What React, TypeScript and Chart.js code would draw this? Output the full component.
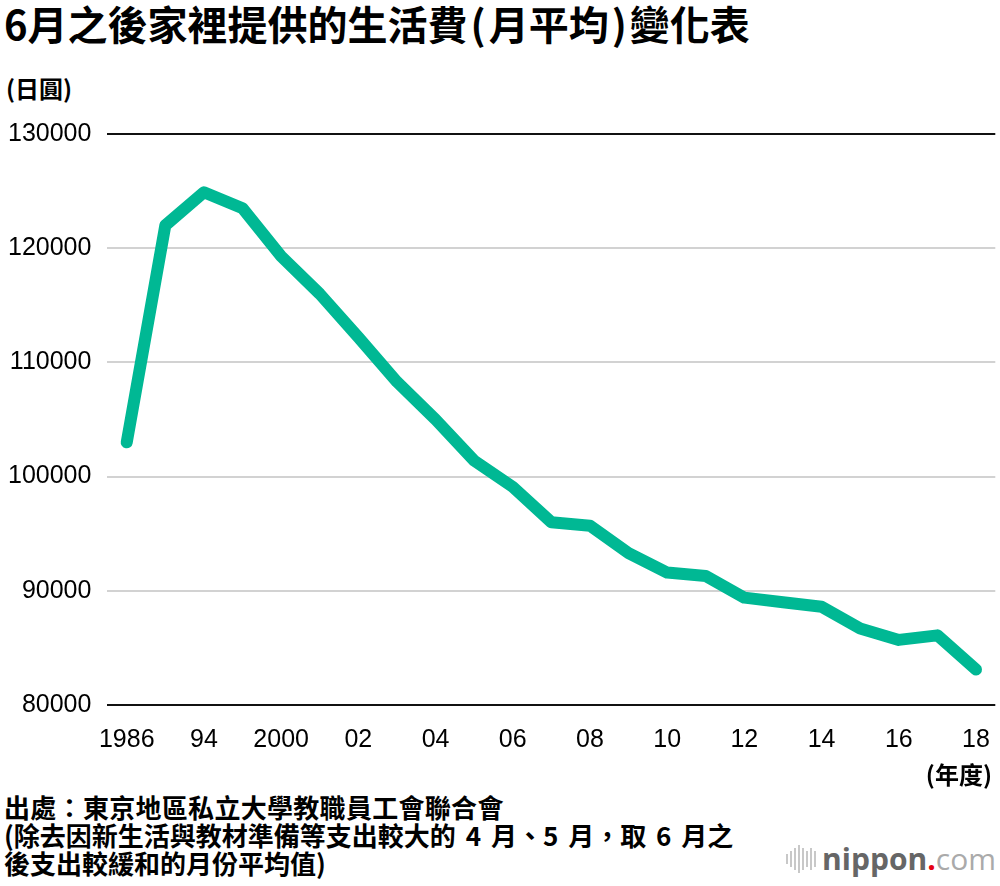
import { useEffect, useRef } from "react";
import { Chart, registerables } from "chart.js";

Chart.register(...registerables);

const TICK_LABELS = ["1986", "", "94", "", "2000", "", "02", "", "04", "", "06", "", "08", "", "10", "", "12", "", "14", "", "16", "", "18"];
const LIVING_COST = [103000, 122000, 124900, 123500, 119300, 116000, 112200, 108300, 105000, 101400, 99100, 96000, 95700, 93300, 91600, 91300, 89400, 89000, 88600, 86700, 85700, 86100, 83100];
const Y_MIN = 80000;
const Y_MAX = 130000;
const Y_STEP = 10000;

const GREEN = "#00b894";
const LATIN = "'Liberation Sans', Arial, sans-serif";
const CJK = "'Noto Sans CJK TC', 'Liberation Sans', sans-serif";

function LivingCostChart() {
  const canvasRef = useRef<HTMLCanvasElement>(null);

  useEffect(() => {
    if (!canvasRef.current) return;
    const chart = new Chart(canvasRef.current, {
      type: "line",
      data: {
        labels: TICK_LABELS,
        datasets: [
          {
            data: LIVING_COST,
            borderColor: GREEN,
            borderWidth: 12,
            borderCapStyle: "round",
            borderJoinStyle: "round",
            pointRadius: 0,
            tension: 0,
            fill: false,
          },
        ],
      },
      options: {
        animation: false,
        responsive: true,
        maintainAspectRatio: false,
        layout: { padding: { top: 10, right: 5, left: 4, bottom: 0 } },
        plugins: { legend: { display: false }, tooltip: { enabled: false } },
        scales: {
          x: {
            offset: true,
            grid: { display: false, drawTicks: false },
            border: { display: false },
            ticks: {
              autoSkip: false,
              maxRotation: 0,
              color: "#000",
              padding: 20,
              font: { family: LATIN, size: 25 },
            },
          },
          y: {
            min: Y_MIN,
            max: Y_MAX,
            grid: {
              drawTicks: false,
              lineWidth: 2,
              color: (ctx: any) =>
                ctx.tick && (ctx.tick.value === Y_MIN || ctx.tick.value === Y_MAX) ? "#111" : "#d2d2d2",
            },
            border: { display: false },
            ticks: {
              stepSize: Y_STEP,
              color: "#000",
              padding: 16,
              font: { family: LATIN, size: 25 },
              callback: (v: any) => String(v),
            },
          },
        },
      },
    });
    return () => chart.destroy();
  }, []);

  return (
    <div style={{ position: "absolute", left: -12, top: 103, width: 1022, height: 672 }}>
      <canvas ref={canvasRef} />
    </div>
  );
}

export default function App() {
  const bars = [10, 16, 22, 28, 22, 16, 22, 16];
  return (
    <div
      style={{
        position: "fixed",
        left: 0,
        top: 0,
        width: 1000,
        height: 886,
        background: "#fff",
        fontFamily: CJK,
        color: "#000",
        overflow: "hidden",
      }}
    >
      <div style={{ position: "absolute", left: 4, top: -6, fontSize: 40, fontWeight: 700, whiteSpace: "nowrap" }}>
        6月之後家裡提供的生活費<span style={{ margin: "0 3px" }}>(</span>月平均<span style={{ margin: "0 3px" }}>)</span>變化表
      </div>
      <div style={{ position: "absolute", left: 6, top: 70, fontSize: 24, fontWeight: 700 }}>(日圓)</div>
      <LivingCostChart />
      <div style={{ position: "absolute", right: 8, top: 756, fontSize: 24, fontWeight: 700 }}>(年度)</div>
      <div style={{ position: "absolute", left: 4, top: 793, fontSize: 26, fontWeight: 700, lineHeight: "28px", whiteSpace: "nowrap" }}>
        <div style={{ letterSpacing: 0.3 }}>出處：東京地區私立大學教職員工會聯合會</div>
        <div style={{ wordSpacing: 4 }}>(除去因新生活與教材準備等支出較大的 4 月、5 月，取 6 月之</div>
        <div>後支出較緩和的月份平均值)</div>
      </div>
      <div style={{ position: "absolute", right: 4, top: 842, display: "flex", alignItems: "center", gap: 6 }}>
        <div style={{ display: "flex", alignItems: "center", gap: 2 }}>
          {bars.map((h, i) => (
            <div key={i} style={{ width: 2, height: h, background: "#c8c8c8" }} />
          ))}
        </div>
        <div style={{ fontFamily: "'Open Sans', sans-serif", fontSize: 30, lineHeight: "34px" }}>
          <span style={{ color: "#666", fontWeight: 700 }}>nippon</span>
          <span style={{ color: "#e60012", fontWeight: 700 }}>.</span>
          <span style={{ color: "#aaa" }}>com</span>
        </div>
      </div>
    </div>
  );
}
